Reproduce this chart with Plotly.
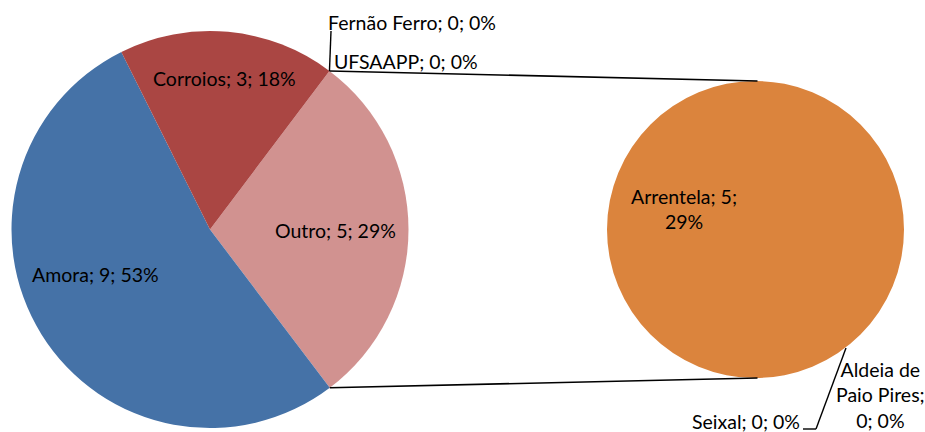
import math
import plotly.graph_objects as go

# ---------------- data ----------------
main_labels = ["Outro", "Amora", "Corroios"]
main_values = [5, 9, 3]
main_colors = ["#D19290", "#4572A7", "#AA4643"]

second_labels = ["Arrentela", "Fernão Ferro", "UFSAAPP", "Seixal", "Aldeia de Paio Pires"]
second_values = [5, 0, 0, 0, 0]
second_colors = ["#DB843D", "#DB843D", "#DB843D", "#DB843D", "#DB843D"]

total = sum(v for l, v in zip(main_labels, main_values) if l != "Outro") + sum(second_values)

W, H = 925, 432
FONT = "Lato"
FS = 19.5

def px(x):
    return x / W

def py(y):
    return 1 - y / H

# geometry (pixels)
C1 = (210, 229.5); R1 = 198.5
C2 = (755.5, 229.5); R2 = 148.5
rot = 37  # start angle of "Outro" (clockwise from 12 o'clock)

fig = go.Figure()
fig.add_trace(go.Pie(
    labels=main_labels, values=main_values, sort=False, direction="clockwise",
    rotation=rot, marker=dict(colors=main_colors, line=dict(width=0)),
    textinfo="none", hoverinfo="none", showlegend=False,
    domain=dict(x=[px(C1[0] - R1), px(C1[0] + R1)], y=[py(C1[1] + R1), py(C1[1] - R1)]),
))
fig.add_trace(go.Pie(
    labels=second_labels, values=second_values, sort=False, direction="clockwise",
    marker=dict(colors=second_colors, line=dict(width=0)),
    textinfo="none", hoverinfo="none", showlegend=False,
    domain=dict(x=[px(C2[0] - R2), px(C2[0] + R2)], y=[py(C2[1] + R2), py(C2[1] - R2)]),
))

def fmt(label, value):
    return f"{label}; {value}; {round(100 * value / total)}%"

# label display positions (pixels) and line wraps
wraps = {
    "Arrentela": lambda s: s.replace("5; ", "5;<br>"),
    "Aldeia de Paio Pires": lambda s: s.replace("de ", "de<br>").replace("Pires; ", "Pires;<br>"),
}
label_pos = {
    "Outro": (335.5, 230), "Amora": (95, 274), "Corroios": (224, 78),
    "Arrentela": (684, 209), "Fernão Ferro": (411.5, 22), "UFSAAPP": (406, 62),
    "Seixal": (745.5, 421), "Aldeia de Paio Pires": (880, 395),
}

annotations = []
for lab, val in list(zip(main_labels, main_values)) + list(zip(second_labels, second_values)):
    t = fmt(lab, val)
    if lab in wraps:
        t = wraps[lab](t)
    x, y = label_pos[lab]
    annotations.append(dict(
        x=px(x), y=py(y), xref="paper", yref="paper", text=t, showarrow=False,
        xanchor="center", yanchor="middle", align="center",
        font=dict(family=FONT, size=FS, color="#000000"),
    ))

# connector lines between the "Outro" slice edges and the second pie
a0 = math.radians(rot)
a1 = math.radians(rot + 360 * main_values[0] / sum(main_values))
p_top = (C1[0] + R1 * math.sin(a0), C1[1] - R1 * math.cos(a0))
p_bot = (C1[0] + R1 * math.sin(a1), C1[1] - R1 * math.cos(a1))
q_top = (C2[0] + 2, C2[1] - R2)
q_bot = (C2[0] + 2, C2[1] + R2)

shapes = []
def seg(p, q, w=1.6):
    shapes.append(dict(type="line", xref="paper", yref="paper",
                       x0=px(p[0]), y0=py(p[1]), x1=px(q[0]), y1=py(q[1]),
                       line=dict(color="#000000", width=w)))

seg(p_top, q_top)
seg(p_bot, q_bot)
# leader lines for the zero-value labels
seg(p_top, (331, 31), 1.4)
seg((803, 429), (816, 429), 1.4)
seg((816, 429), (846, 348), 1.4)

fig.update_layout(
    width=W, height=H, autosize=False,
    margin=dict(l=0, r=0, t=0, b=0),
    paper_bgcolor="#FFFFFF", plot_bgcolor="#FFFFFF",
    annotations=annotations, shapes=shapes,
    showlegend=False,
)

fig.write_html(
    "out.html",
    config={"displayModeBar": False},
    post_script="document.body.style.margin='0';document.body.style.padding='0';document.body.style.overflow='hidden';",
)
